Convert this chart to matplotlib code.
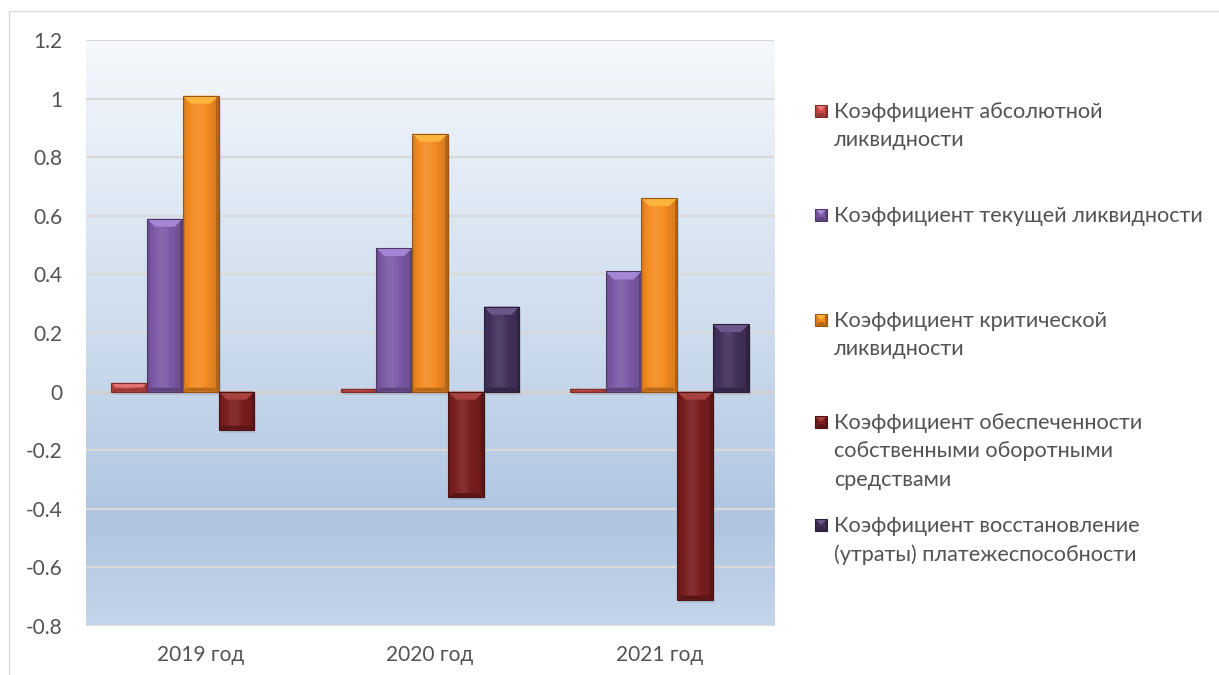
import numpy as np
import matplotlib
matplotlib.use("Agg")
import matplotlib.pyplot as plt
from matplotlib.patches import Rectangle, Polygon
from matplotlib.colors import to_rgb, LinearSegmentedColormap

# ---- data -------------------------------------------------------------
categories = ["2019 год", "2020 год", "2021 год"]

series_labels = [
    "Коэффициент абсолютной\nликвидности",
    "Коэффициент текущей ликвидности",
    "Коэффициент критической\nликвидности",
    "Коэффициент обеспеченности\nсобственными оборотными\nсредствами",
    "Коэффициент восстановление\n(утраты) платежеспособности",
]

absolute_liquidity = [0.03, 0.01, 0.01]
current_liquidity = [0.59, 0.49, 0.41]
critical_liquidity = [1.01, 0.88, 0.66]
own_working_capital = [-0.13, -0.36, -0.71]
solvency_recovery = [0.0, 0.29, 0.23]

series_values = [absolute_liquidity, current_liquidity, critical_liquidity,
                 own_working_capital, solvency_recovery]

y_ticks = [-0.8, -0.6, -0.4, -0.2, 0, 0.2, 0.4, 0.6, 0.8, 1, 1.2]

# ---- styling ----------------------------------------------------------
series_colors = ["#c94a46", "#7d5aa7", "#f58c22", "#7a1e1f", "#43315c"]
highlight_colors = ["#e57672", "#a487d4", "#fbb43c", "#a8423f", "#6b5789"]
text_color = "#535353"
grid_color = "#d9d9d9"
FONT = ["Lato", "DejaVu Sans"]

W, H, DPI = 1219, 675, 100
fig = plt.figure(figsize=(W / DPI, H / DPI), dpi=DPI)
fig.patch.set_facecolor("white")

# full-figure overlay in pixel units for the legend and chart frame
over = fig.add_axes([0, 0, 1, 1], zorder=5)
over.set_xlim(0, W)
over.set_ylim(H, 0)
over.axis("off")
over.set_facecolor("none")

ax_l, ax_r, ax_t, ax_b = 86, 774, 40, 626
ax = fig.add_axes([ax_l / W, 1 - ax_b / H, (ax_r - ax_l) / W, (ax_b - ax_t) / H], zorder=1)

x = np.arange(len(categories))
ax.set_xlim(-0.5, len(categories) - 0.5)
ax.set_ylim(y_ticks[0], y_ticks[-1])

# plot-area background gradient (light top, blue toward the bottom)
bg_cmap = LinearSegmentedColormap.from_list(
    "bg", [(0.0, "#f5f8fc"), (0.55, "#c9d9ec"), (0.82, "#afc5e0"), (1.0, "#c5d5ea")])
grad = np.linspace(0, 1, 256).reshape(-1, 1)
ax.imshow(grad, cmap=bg_cmap, aspect="auto", extent=[0, 1, 0, 1],
          transform=ax.transAxes, zorder=0, interpolation="bicubic")
ax.set_facecolor("none")

for v in y_ticks:
    ax.axhline(v, color=grid_color, lw=1.6, zorder=1)
ax.axhline(0, color="#cfcfcf", lw=2.4, zorder=1.5)

for s in ax.spines.values():
    s.set_visible(False)
ax.tick_params(length=0)
ax.set_yticks(y_ticks)
ax.set_yticklabels([f"{v:g}" for v in y_ticks], fontsize=15,
                   color=text_color, family=FONT)
ax.tick_params(axis="y", pad=17)
ax.set_xticks(x)
ax.set_xticklabels(categories, fontsize=15, color=text_color, family=FONT)
ax.tick_params(axis="x", pad=14)


def tint(c, f):
    r = np.array(to_rgb(c))
    if f >= 1:
        return tuple(r + (1 - r) * (f - 1))
    return tuple(r * f)


# pixel -> data scale factors
px_x = (len(categories)) / ax.bbox.width
px_y = (y_ticks[-1] - y_ticks[0]) / ax.bbox.height

n = len(series_values)
bar_w = 0.156


def bevel_bar(x0, x1, top, bot, color, hi, target, sx, sy, gradient=True, z=3,
              depth=8, shadow=True):
    """Bar block with a light top bevel; sy > 0 means 'up' is larger y."""
    w_px = abs((x1 - x0) / sx)
    h_px = abs((top - bot) / sy)
    if h_px <= 0:
        return
    if shadow:
        target.add_patch(Rectangle((x0 + 2 * sx, bot - 3 * sy), x1 - x0, top - bot,
                                   facecolor="#3a4a60", alpha=0.12, lw=0, zorder=z - 0.5))
    body = Rectangle((x0, bot), x1 - x0, top - bot, facecolor=color, lw=0, zorder=z)
    target.add_patch(body)
    if gradient:
        prof = np.linspace(0, 1, 64)
        f = 0.88 + 0.2 * np.exp(-((prof - 0.42) / 0.32) ** 2)
        img = np.array([tint(color, fi) for fi in f]).reshape(1, -1, 3)
        im = target.imshow(img, aspect="auto", extent=[x0, x1, bot, top],
                           zorder=z + 0.1, interpolation="bilinear")
        im.set_clip_path(body)
    d = min(depth, h_px / 2, w_px / 2)
    side = min(2.5, w_px / 4)
    bd = min(4, h_px / 3)
    # side strips
    target.add_patch(Rectangle((x0, bot), side * sx, top - bot,
                               facecolor=tint(color, 0.88), lw=0, zorder=z + 0.2))
    target.add_patch(Rectangle((x1 - side * sx, bot), side * sx, top - bot,
                               facecolor=tint(color, 0.72), lw=0, zorder=z + 0.2))
    # bottom strip
    target.add_patch(Polygon([(x0, bot), (x1, bot), (x1 - bd * sx, bot + bd * sy),
                              (x0 + bd * sx, bot + bd * sy)],
                             facecolor=tint(color, 0.75), lw=0, zorder=z + 0.3))
    # top highlight
    target.add_patch(Polygon([(x0, top), (x1, top), (x1 - d * sx, top - d * sy),
                              (x0 + d * sx, top - d * sy)],
                             facecolor=hi, lw=0, zorder=z + 0.4))
    target.add_patch(Rectangle((x0, bot), x1 - x0, top - bot, facecolor="none",
                               edgecolor=tint(color, 0.62), lw=0.8, zorder=z + 0.5))


for i, (vals, col, hi) in enumerate(zip(series_values, series_colors, highlight_colors)):
    offs = (i - (n - 1) / 2) * bar_w
    bars = ax.bar(x + offs, vals, width=bar_w, color="none", lw=0, zorder=2)
    for b in bars:
        x0 = b.get_x()
        x1 = x0 + b.get_width()
        y0 = b.get_y()
        y1 = y0 + b.get_height()
        bevel_bar(x0, x1, max(y0, y1), min(y0, y1), col, hi, ax, px_x, px_y)

# ---- legend (pixel units, y grows downward) -----------------------------
leg_top = [111, 215, 320, 422, 525]
mk_x0, mk_size, txt_x = 815, 12, 834
for lbl, col, hi, yc in zip(series_labels, series_colors, highlight_colors, leg_top):
    bevel_bar(mk_x0, mk_x0 + mk_size, yc - mk_size / 2, yc + mk_size / 2,
              col, hi, over, 1, -1, gradient=False, z=5, depth=5, shadow=False)
    over.text(txt_x, yc - 9, lbl, fontsize=15.6, color=text_color,
              family=FONT, va="top", ha="left", linespacing=1.52)

# chart-area border
over.add_patch(Rectangle((9, 11), W + 20, H + 20, facecolor="none",
                         edgecolor="#d9d9d9", lw=1.0, zorder=0))

fig.savefig("out.png", dpi=DPI)
